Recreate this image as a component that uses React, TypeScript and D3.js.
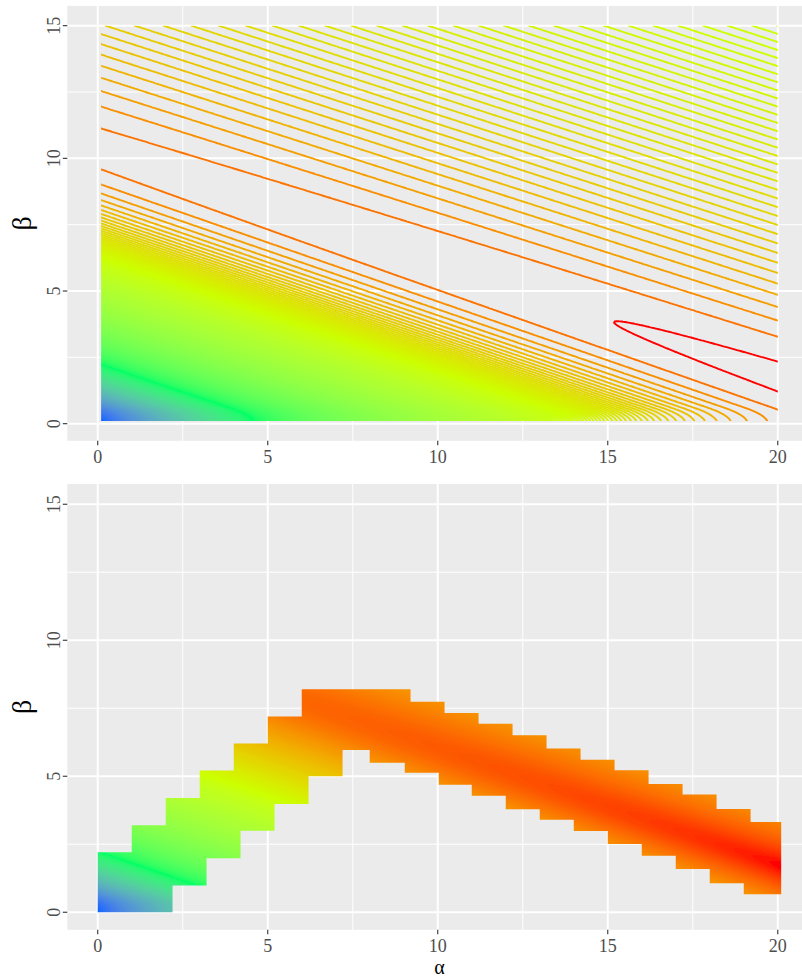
import React, { useMemo } from 'react';
import * as d3 from 'd3';

const WIDTH = 802;
const HEIGHT = 978;

// grid the upper panel surface is evaluated on
const ALPHA_RANGE = [0.1, 20];
const BETA_RANGE = [0.1, 15];
const GRID_STEP = 0.05;

const X_TICKS = [0, 5, 10, 15, 20];
const X_MINOR = [2.5, 7.5, 12.5, 17.5];
const Y_TICKS = [0, 5, 10, 15];
const Y_MINOR = [2.5, 7.5, 12.5];

const RAINBOW = ['#0066FF', '#00FF66', '#CCFF00', '#FF0000'];

// surface, in contour steps below the top (red) contour
const TILT = 0.43;          // ridge runs along beta + 0.43 alpha = const
const RIDGE_AT = 10.35;     // ridge height at alpha = 0
const FLOOR = 0.6;          // contours turn vertical below this beta
const RISE = 0.0415;        // steps gained per unit alpha along the ridge
const TOP_GAP = 0.63;       // ridge at alpha = 0 sits this far under the top contour
const UPPER = [9, 2.7];     // size, scale above the ridge
const LOWER = [6.3, 4.7, 1, 0.08]; // size, power, shift, quadratic below the ridge
const COLOUR_SOFT = [0.5, 0.4]; // log colour scale bend, upper / lower panel
const LINE_COUNT = 60;      // contour lines drawn, the rest is solid
const SOLID_FROM = 40;

// lower panel band outline: [alpha from, alpha to, beta]
const BAND_TOP = [
  [0, 1, 2.21], [1, 2, 3.2], [2, 3, 4.2], [3, 4, 5.21], [4, 5, 6.2], [5, 6, 7.2],
  [6, 9.2, 8.2], [9.2, 10.2, 7.74], [10.2, 11.2, 7.33], [11.2, 12.2, 6.93],
  [12.2, 13.2, 6.51], [13.2, 14.2, 6.02], [14.2, 15.2, 5.61], [15.2, 16.2, 5.22],
  [16.2, 17.2, 4.72], [17.2, 18.2, 4.33], [18.2, 19.2, 3.8], [19.2, 20.1, 3.32],
];
const BAND_BOTTOM = [
  [0, 2.2, 0], [2.2, 3.2, 0.98], [3.2, 4.2, 1.99], [4.2, 5.2, 3.0], [5.2, 6.2, 3.98],
  [6.2, 7.2, 5.0], [7.2, 8.0, 5.97], [8.0, 9.03, 5.5], [9.03, 10.03, 5.13],
  [10.03, 11.0, 4.69], [11.0, 12.0, 4.28], [12.0, 13.0, 3.79], [13.0, 14.0, 3.4],
  [14.0, 15.0, 2.99], [15.0, 16.0, 2.51], [16.0, 17.0, 2.08], [17.0, 18.0, 1.59],
  [18.0, 19.0, 1.07], [19.0, 20.1, 0.66],
];

const X_DOMAIN = [-0.895, 20.995];
const Y_DOMAIN = [-0.645, 15.745];
const PANEL_X = [67.3, 811.6];
const PANELS = [[5.9, 440.8], [484, 929.8]];

const FONT = "'Liberation Serif', 'DejaVu Serif', serif";

function depth(a: number, b: number) {
  const lift = b >= FLOOR ? b : FLOOR / 2 + (b * b) / (2 * FLOOR);
  const w = TILT * a + lift;
  const u = w - RIDGE_AT;
  let q;
  if (u >= 0) {
    const t = u / UPPER[1];
    q = UPPER[0] * (Math.exp(-t) - 1 + t);
  } else {
    const z = LOWER[1] * Math.log((RIDGE_AT + LOWER[2]) / (w + LOWER[2]));
    q = LOWER[0] * (Math.exp(z) - 1 - z) + LOWER[3] * u * u;
  }
  return q + TOP_GAP - RISE * a;
}

const tone = d3.scaleLinear<string>()
  .domain([0, 1 / 3, 2 / 3, 1])
  .range(RAINBOW)
  .interpolate(d3.interpolateLab)
  .clamp(true);

const lut = d3.range(256).map(i => d3.rgb(tone(i / 255)));

// colour share: 1 at the best value, 0 at the worst, log scaled in steps
const share = (d: number, base: number, soft: number, top: number) =>
  Math.min(1, Math.max(0, 1 - Math.log1p(Math.max(d - base, 0) / soft) / top));

function paint(x: any, y: any, box: number[], base: number, soft: number, top: number, keep: (d: number) => boolean) {
  const [x0, x1, y0, y1] = box;
  const w = x1 - x0, h = y1 - y0;
  const canvas = document.createElement('canvas');
  canvas.width = w;
  canvas.height = h;
  const ctx = canvas.getContext('2d')!;
  const img = ctx.createImageData(w, h);
  for (let r = 0; r < h; r++) {
    const b = Math.max(0, y.invert(y0 + r + 0.5));
    for (let c = 0; c < w; c++) {
      const a = Math.max(0, x.invert(x0 + c + 0.5));
      const d = depth(a, b);
      if (!keep(d)) continue;
      const col = lut[Math.round(share(d, base, soft, top) * 255)];
      const o = (r * w + c) * 4;
      img.data[o] = col.r;
      img.data[o + 1] = col.g;
      img.data[o + 2] = col.b;
      img.data[o + 3] = 255;
    }
  }
  ctx.putImageData(img, 0, 0);
  return canvas.toDataURL();
}

function Panel({ y, panel }: any) {
  const [top, bottom] = panel;
  const [left, right] = PANEL_X;
  const x = d3.scaleLinear().domain(X_DOMAIN).range(PANEL_X);
  return (
    <g>
      <rect x={left} y={top} width={right - left} height={bottom - top} fill="#EBEBEB" />
      {X_MINOR.map(t => <line key={'xm' + t} x1={x(t)} x2={x(t)} y1={top} y2={bottom} stroke="#fff" strokeWidth={1} />)}
      {Y_MINOR.map(t => <line key={'ym' + t} x1={left} x2={right} y1={y(t)} y2={y(t)} stroke="#fff" strokeWidth={1} />)}
      {X_TICKS.map(t => <line key={'xM' + t} x1={x(t)} x2={x(t)} y1={top} y2={bottom} stroke="#fff" strokeWidth={2} />)}
      {Y_TICKS.map(t => <line key={'yM' + t} x1={left} x2={right} y1={y(t)} y2={y(t)} stroke="#fff" strokeWidth={2} />)}
    </g>
  );
}

function AxisText({ y, panel, titleX }: any) {
  const [top, bottom] = panel;
  const left = PANEL_X[0];
  const x = d3.scaleLinear().domain(X_DOMAIN).range(PANEL_X);
  return (
    <g fontFamily={FONT}>
      {X_TICKS.map(t => (
        <g key={'xt' + t}>
          <line x1={x(t)} x2={x(t)} y1={bottom} y2={bottom + 4.5} stroke="#333" strokeWidth={1.1} />
          <text x={x(t)} y={bottom + 21.7} fontSize={18} fill="#4D4D4D" textAnchor="middle">{t}</text>
        </g>
      ))}
      {Y_TICKS.map(t => (
        <g key={'yt' + t}>
          <line x1={left - 4.5} x2={left} y1={y(t)} y2={y(t)} stroke="#333" strokeWidth={1.1} />
          <text transform={`translate(59.5,${y(t)}) rotate(-90)`} fontSize={18} fill="#4D4D4D" textAnchor="middle">{t}</text>
        </g>
      ))}
      <text transform={`translate(30.5,${(top + bottom) / 2}) rotate(-90)`} fontSize={28} textAnchor="middle">β</text>
      {titleX && <text x={(PANEL_X[0] + PANEL_X[1]) / 2} y={973.5} fontSize={20} textAnchor="middle">α</text>}
    </g>
  );
}

export default function App() {
  const x = d3.scaleLinear().domain(X_DOMAIN).range(PANEL_X);
  const yTop = d3.scaleLinear().domain(Y_DOMAIN).range([PANELS[0][1], PANELS[0][0]]);
  const yLow = d3.scaleLinear().domain(Y_DOMAIN).range([PANELS[1][1], PANELS[1][0]]);

  const upper = useMemo(() => {
    const nx = Math.round((ALPHA_RANGE[1] - ALPHA_RANGE[0]) / GRID_STEP) + 1;
    const ny = Math.round((BETA_RANGE[1] - BETA_RANGE[0]) / GRID_STEP) + 1;
    const values: number[] = new Array(nx * ny);
    let dMax = -Infinity;
    for (let j = 0; j < ny; j++) {
      const b = BETA_RANGE[0] + j * GRID_STEP;
      for (let i = 0; i < nx; i++) {
        const v = depth(ALPHA_RANGE[0] + i * GRID_STEP, b);
        values[j * nx + i] = v;
        if (v > dMax) dMax = v;
      }
    }
    const soft = COLOUR_SOFT[0];
    const top = Math.log1p(dMax / soft);
    const levels = d3.range(0, LINE_COUNT + 1);
    const px = (g: number) => x(ALPHA_RANGE[0] + (g - 0.5) * GRID_STEP).toFixed(1);
    const py = (g: number) => yTop(BETA_RANGE[0] + (g - 0.5) * GRID_STEP).toFixed(1);
    const edge = (p: number[]) => p[0] === 0 || p[0] === nx || p[1] === 0 || p[1] === ny;
    const lines = d3.contours().size([nx, ny]).thresholds(levels)(values).map((c: any) => {
      let d = '';
      for (const poly of c.coordinates) {
        for (const ring of poly) {
          let pen = false;
          for (let k = 1; k < ring.length; k++) {
            const p = ring[k - 1], q = ring[k];
            if (edge(p) && edge(q)) { pen = false; continue; }
            if (!pen) d += `M${px(p[0])},${py(p[1])}`;
            d += `L${px(q[0])},${py(q[1])}`;
            pen = true;
          }
        }
      }
      return { d, colour: tone(share(c.value, 0, soft, top)), value: c.value };
    });
    const box = [
      Math.floor(x(ALPHA_RANGE[0])), Math.ceil(x(ALPHA_RANGE[1])),
      Math.floor(yTop(BETA_RANGE[1])), Math.ceil(yTop(BETA_RANGE[0])),
    ];
    const href = paint(x, yTop, box, 0, soft, top, d => d > SOLID_FROM);
    return { lines: lines.reverse(), href, box };
  }, []);

  const lower = useMemo(() => {
    const soft = COLOUR_SOFT[1];
    // best tile sits on the ridge at the right end of the band
    const base = depth(20, RIDGE_AT - TILT * 20);
    const top = Math.log1p((depth(0, 0) - base) / soft);
    const box = [
      Math.floor(x(0)), Math.ceil(x(20.1)),
      Math.floor(yLow(8.2)), Math.ceil(yLow(0)),
    ];
    const href = paint(x, yLow, box, base, soft, top, () => true);
    const pts: [number, number][] = [];
    BAND_TOP.forEach(([a0, a1, b]) => { pts.push([x(a0), yLow(b)], [x(a1), yLow(b)]); });
    [...BAND_BOTTOM].reverse().forEach(([a0, a1, b]) => { pts.push([x(a1), yLow(b)], [x(a0), yLow(b)]); });
    return { href, box, outline: d3.line()(pts) + 'Z' };
  }, []);

  const clip = {
    x: x(ALPHA_RANGE[0]), y: yTop(BETA_RANGE[1]),
    w: x(ALPHA_RANGE[1]) - x(ALPHA_RANGE[0]), h: yTop(BETA_RANGE[0]) - yTop(BETA_RANGE[1]),
  };

  return (
    <svg width={WIDTH} height={HEIGHT} style={{ position: 'absolute', left: 0, top: 0, background: '#fff' }}>
      <defs>
        <clipPath id="surface-clip">
          <rect x={clip.x} y={clip.y} width={clip.w} height={clip.h} />
        </clipPath>
        <clipPath id="band-clip">
          <path d={lower.outline} />
        </clipPath>
      </defs>

      <Panel y={yTop} panel={PANELS[0]} />
      <g clipPath="url(#surface-clip)">
        <image href={upper.href} x={upper.box[0]} y={upper.box[2]}
          width={upper.box[1] - upper.box[0]} height={upper.box[3] - upper.box[2]} />
        {upper.lines.map((l: any) => (
          <path key={l.value} d={l.d} fill="none" stroke={l.colour} strokeWidth={1.9} strokeLinejoin="round" />
        ))}
      </g>
      <AxisText y={yTop} panel={PANELS[0]} />

      <Panel y={yLow} panel={PANELS[1]} />
      <image href={lower.href} x={lower.box[0]} y={lower.box[2]}
        width={lower.box[1] - lower.box[0]} height={lower.box[3] - lower.box[2]}
        clipPath="url(#band-clip)" />
      <AxisText y={yLow} panel={PANELS[1]} titleX />
    </svg>
  );
}
